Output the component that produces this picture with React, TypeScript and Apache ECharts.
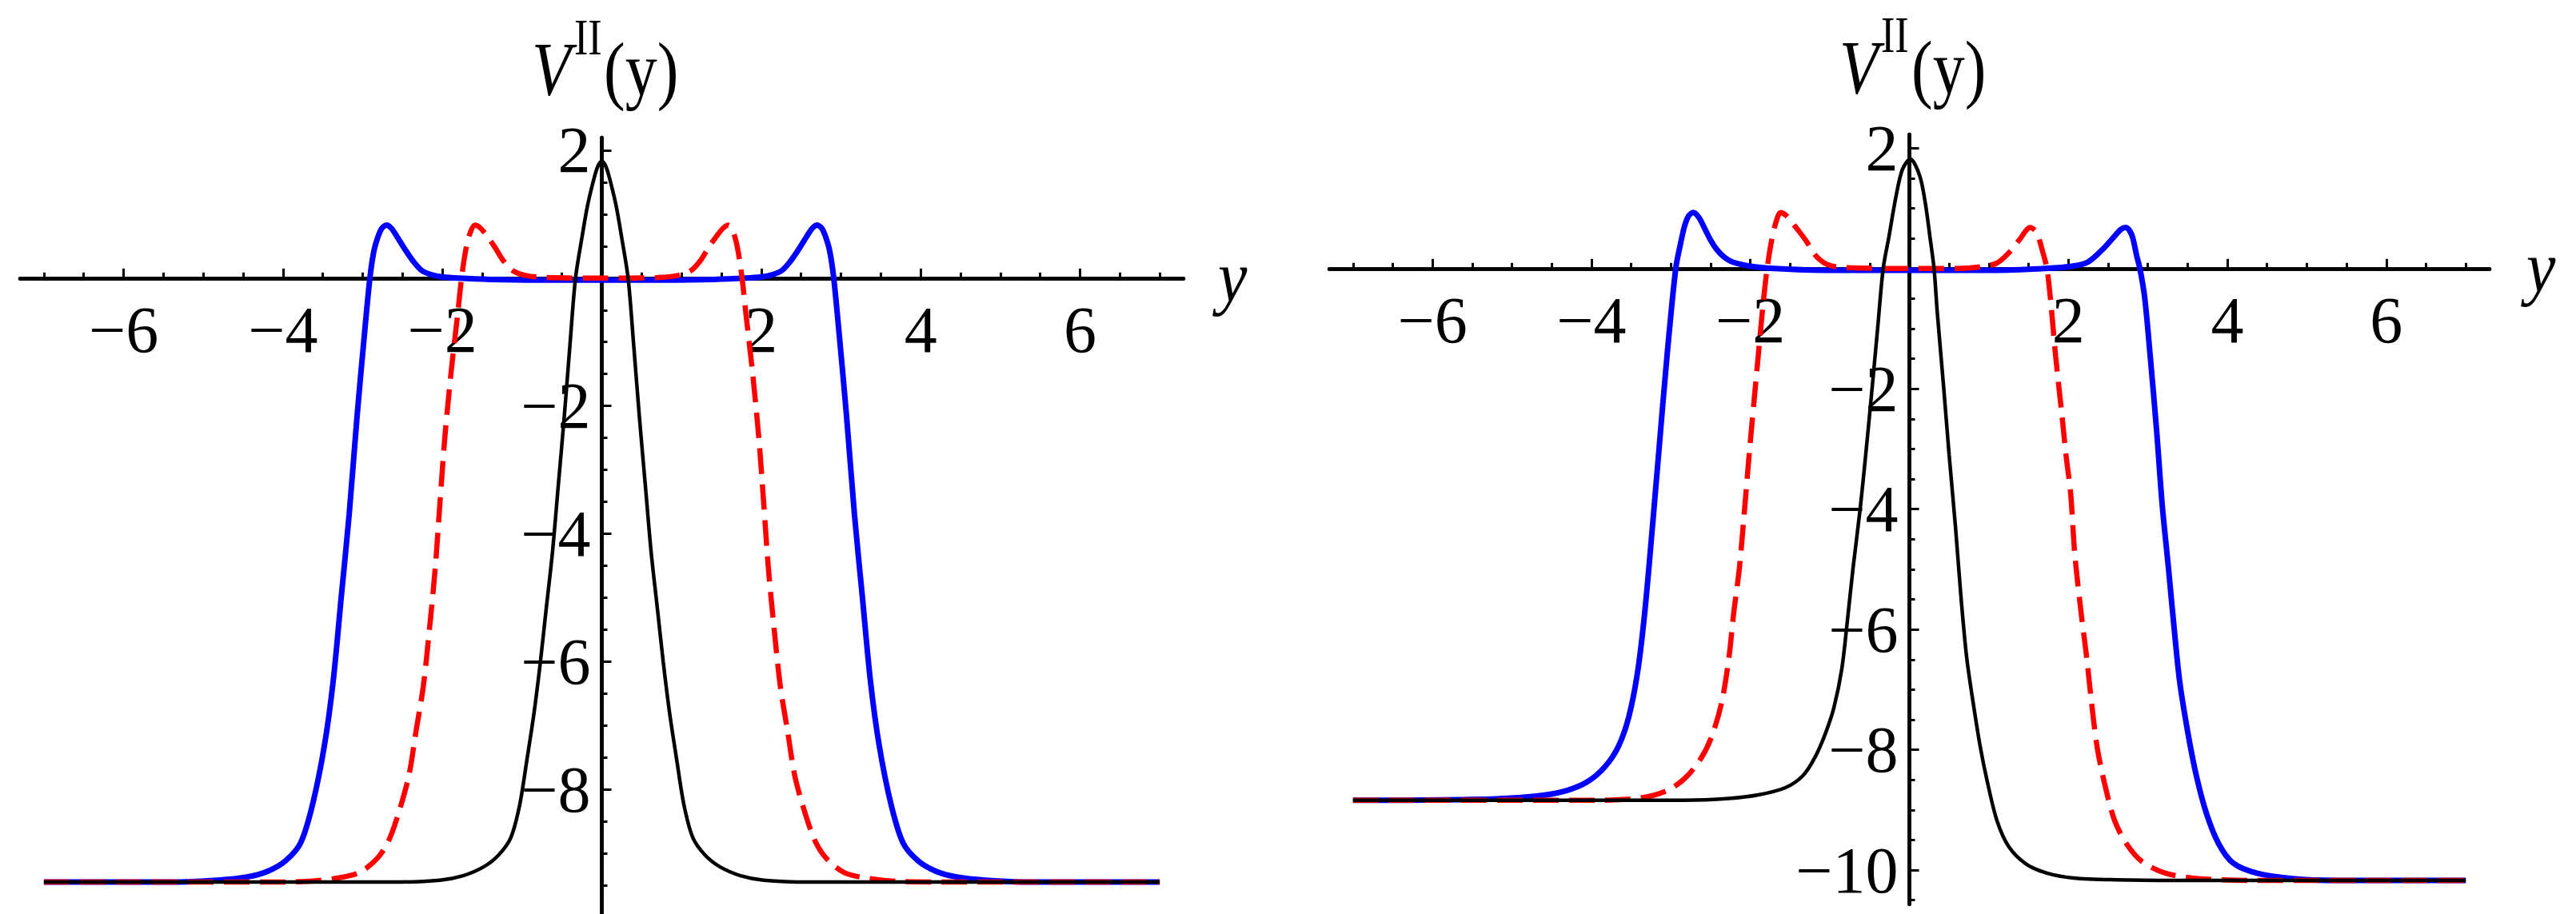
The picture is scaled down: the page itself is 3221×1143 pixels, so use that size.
import React, { useEffect, useRef } from "react";
import * as echarts from "echarts";

// ---------- data ----------
// Left panel (symmetric potentials)
const leftBlue: [number, number][] = [
  [-7.0, -9.45], [-6.0, -9.45], [-5.38, -9.45], [-4.82, -9.42], [-4.45, -9.37], [-4.19, -9.28],
  [-3.97, -9.12], [-3.78, -8.84], [-3.63, -8.24], [-3.48, -7.31], [-3.37, -6.3], [-3.27, -5.0],
  [-3.17, -3.7], [-3.07, -2.15], [-2.98, -0.9], [-2.91, 0], [-2.86, 0.42], [-2.81, 0.64],
  [-2.76, 0.78], [-2.70, 0.83], [-2.64, 0.78], [-2.57, 0.65], [-2.48, 0.47], [-2.37, 0.27],
  [-2.26, 0.12], [-2.13, 0.05], [-2.0, 0.02], [-1.8, 0.0], [-1.4, -0.02], [-0.8, -0.03], [0, -0.03],
  [0.8, -0.03], [1.4, -0.02], [1.8, 0.0], [2.0, 0.02], [2.13, 0.05], [2.26, 0.12], [2.37, 0.27],
  [2.48, 0.47], [2.57, 0.65], [2.64, 0.78], [2.70, 0.83], [2.76, 0.78], [2.81, 0.64], [2.86, 0.42],
  [2.91, 0], [2.98, -0.9], [3.07, -2.15], [3.17, -3.7], [3.27, -5.0], [3.37, -6.3], [3.48, -7.31],
  [3.63, -8.24], [3.78, -8.84], [3.97, -9.12], [4.19, -9.28], [4.45, -9.37], [4.82, -9.42],
  [5.38, -9.45], [6.0, -9.45], [7.0, -9.45],
];
const leftRed: [number, number][] = [
  [-7.0, -9.45], [-4.26, -9.45], [-3.71, -9.44], [-3.33, -9.39], [-3.04, -9.30], [-2.81, -9.07],
  [-2.67, -8.79], [-2.54, -8.33], [-2.42, -7.78], [-2.33, -7.08], [-2.24, -6.39], [-2.16, -5.46],
  [-2.09, -4.54], [-2.03, -3.5], [-1.97, -2.5], [-1.89, -1.46], [-1.81, -0.58], [-1.76, 0],
  [-1.71, 0.42], [-1.66, 0.68], [-1.59, 0.83], [-1.52, 0.78], [-1.43, 0.64], [-1.35, 0.5],
  [-1.24, 0.28], [-1.12, 0.12], [-0.95, 0.04], [-0.7, 0.01], [0, 0],
  [0.7, 0.01], [0.95, 0.04], [1.12, 0.12], [1.24, 0.28], [1.35, 0.5], [1.43, 0.64], [1.52, 0.78],
  [1.59, 0.83], [1.66, 0.68], [1.71, 0.42], [1.76, 0], [1.81, -0.58], [1.89, -1.46], [1.97, -2.5],
  [2.03, -3.5], [2.09, -4.54], [2.16, -5.46], [2.24, -6.39], [2.33, -7.08], [2.42, -7.78],
  [2.54, -8.33], [2.67, -8.79], [2.81, -9.07], [3.04, -9.30], [3.33, -9.39], [3.71, -9.44],
  [4.26, -9.45], [7.0, -9.45],
];
const leftBlack: [number, number][] = [
  [-7.0, -9.45], [-2.6, -9.45], [-2.03, -9.42], [-1.74, -9.35], [-1.48, -9.21], [-1.29, -9.02],
  [-1.14, -8.75], [-1.03, -8.24], [-0.94, -7.54], [-0.85, -6.8], [-0.77, -6.0], [-0.70, -5.2],
  [-0.62, -4.3], [-0.55, -3.3], [-0.47, -2.15], [-0.40, -1.05], [-0.33, 0], [-0.25, 0.63],
  [-0.18, 1.13], [-0.10, 1.55], [-0.05, 1.75], [0, 1.83], [0.05, 1.75], [0.10, 1.55], [0.18, 1.13],
  [0.25, 0.63], [0.33, 0], [0.40, -1.05], [0.47, -2.15], [0.55, -3.3], [0.62, -4.3], [0.70, -5.2],
  [0.77, -6.0], [0.85, -6.8], [0.94, -7.54], [1.03, -8.24], [1.14, -8.75], [1.29, -9.02],
  [1.48, -9.21], [1.74, -9.35], [2.03, -9.42], [2.6, -9.45], [7.0, -9.45],
];

// Right panel (asymmetric potentials)
const rightBlue: [number, number][] = [
  [-7.0, -8.84], [-5.25, -8.82], [-4.69, -8.77], [-4.32, -8.68], [-4.05, -8.53], [-3.83, -8.28],
  [-3.66, -7.94], [-3.53, -7.45], [-3.42, -6.71], [-3.33, -5.72], [-3.24, -4.4], [-3.15, -3.0],
  [-3.05, -1.46], [-2.94, 0], [-2.88, 0.41], [-2.83, 0.70], [-2.78, 0.87], [-2.72, 0.93],
  [-2.65, 0.85], [-2.57, 0.65], [-2.50, 0.47], [-2.42, 0.31], [-2.33, 0.19], [-2.23, 0.11],
  [-2.01, 0.04], [-1.7, 0.0], [-1.0, -0.03], [0, -0.03], [1.0, -0.03], [1.7, 0.0], [2.06, 0.04],
  [2.25, 0.11], [2.44, 0.33], [2.59, 0.55], [2.66, 0.65], [2.72, 0.68], [2.77, 0.63], [2.81, 0.51],
  [2.86, 0.21], [2.90, 0], [2.96, -0.48], [3.03, -1.46], [3.11, -2.69], [3.18, -3.92], [3.26, -4.99],
  [3.33, -5.97], [3.40, -6.86], [3.50, -7.69], [3.61, -8.43], [3.74, -9.07], [3.89, -9.56],
  [4.07, -9.88], [4.37, -10.05], [4.82, -10.14], [5.38, -10.17], [7.0, -10.17],
];
const rightRed: [number, number][] = [
  [-7.0, -8.84], [-3.94, -8.84], [-3.38, -8.80], [-3.05, -8.68], [-2.83, -8.48], [-2.64, -8.18],
  [-2.49, -7.79], [-2.36, -7.20], [-2.27, -6.46], [-2.21, -5.72], [-2.14, -4.99], [-2.08, -4.1],
  [-2.01, -3.0], [-1.92, -1.71], [-1.84, -0.58], [-1.79, 0], [-1.74, 0.42], [-1.69, 0.72],
  [-1.62, 0.93], [-1.55, 0.88], [-1.47, 0.75], [-1.39, 0.62], [-1.30, 0.46], [-1.17, 0.2],
  [-1.0, 0.05], [-0.7, 0.01], [0, 0], [0.6, 0.0], [0.91, 0.03], [1.10, 0.09], [1.25, 0.26],
  [1.38, 0.47], [1.52, 0.68], [1.60, 0.60], [1.67, 0.31], [1.73, 0], [1.78, -0.58], [1.84, -1.46],
  [1.92, -2.45], [1.97, -3.1], [2.03, -3.76], [2.08, -4.74], [2.16, -5.72], [2.23, -6.46],
  [2.29, -7.20], [2.36, -7.94], [2.45, -8.53], [2.58, -9.17], [2.73, -9.56], [2.92, -9.85],
  [3.22, -10.05], [3.63, -10.14], [4.26, -10.17], [7.0, -10.17],
];
const rightBlack: [number, number][] = [
  [-7.0, -8.84], [-2.83, -8.84], [-2.27, -8.81], [-1.90, -8.75], [-1.56, -8.63], [-1.34, -8.43],
  [-1.19, -8.13], [-1.06, -7.74], [-0.95, -7.30], [-0.85, -6.65], [-0.78, -5.85], [-0.71, -4.99],
  [-0.62, -4.0], [-0.55, -3.1], [-0.47, -2.0], [-0.40, -1.0], [-0.33, 0], [-0.26, 0.51],
  [-0.17, 1.19], [-0.09, 1.64], [0.01, 1.82], [0.13, 1.54], [0.20, 1.09], [0.26, 0.51], [0.31, 0],
  [0.35, -0.72], [0.43, -1.96], [0.50, -3.1], [0.58, -4.3], [0.65, -5.48], [0.72, -6.46],
  [0.80, -7.20], [0.89, -7.94], [0.98, -8.53], [1.10, -9.17], [1.25, -9.61], [1.47, -9.90],
  [1.73, -10.05], [2.06, -10.13], [2.59, -10.16], [3.33, -10.17], [7.0, -10.17],
];

// ---------- axes: ranges, ticks and labels ----------
const xRange = [-7.3, 7.3];
const leftYRange = [-9.95, 2.2];
const rightYRange = [-10.57, 2.23];
const xTickLabels = [-6, -4, -2, 2, 4, 6];
const xMajorTicks = [-6, -4, -2, 0, 2, 4, 6];
const xMinorTicks = [-7, -6.5, -6, -5.5, -5, -4.5, -4, -3.5, -3, -2.5, -2, -1.5, -1, -0.5, 0,
  0.5, 1, 1.5, 2, 2.5, 3, 3.5, 4, 4.5, 5, 5.5, 6, 6.5, 7];
const leftYLabels = [2, -2, -4, -6, -8];
const leftYMajorTicks = [2, 0, -2, -4, -6, -8];
const leftYMinorTicks = [2, 1.5, 1, 0.5, 0, -0.5, -1, -1.5, -2, -2.5, -3, -3.5, -4, -4.5, -5, -5.5,
  -6, -6.5, -7, -7.5, -8, -8.5, -9, -9.5];
const rightYLabels = [2, -2, -4, -6, -8, -10];
const rightYMajorTicks = [2, 0, -2, -4, -6, -8, -10];
const rightYMinorTicks = [2, 1.5, 1, 0.5, 0, -0.5, -1, -1.5, -2, -2.5, -3, -3.5, -4, -4.5, -5, -5.5,
  -6, -6.5, -7, -7.5, -8, -8.5, -9, -9.5, -10, -10.5];

const FONT = "'Liberation Serif', 'Times New Roman', serif";
const fmt = (v: number) => (v < 0 ? "\u2212" + String(-v) : String(v));

type Box = { left: number; top: number; width: number; height: number };

function buildAxes(
  gridMajor: number,
  gridMinor: number,
  box: Box,
  yRange: number[],
  yLabels: number[],
  yMajor: number[],
  yMinor: number[]
) {
  // place the axes through the origin (Mathematica style) by offsetting them from the grid edges
  const zeroX = box.left + ((0 - xRange[0]) / (xRange[1] - xRange[0])) * box.width;
  const zeroY = box.top + ((yRange[1] - 0) / (yRange[1] - yRange[0])) * box.height;
  const xOffset = -(box.top + box.height - zeroY);
  const yOffset = -(zeroX - box.left);
  const line = { onZero: false, lineStyle: { color: "#000", width: 4.5 } };
  const label = {
    fontFamily: FONT,
    fontSize: 82,
    color: "#000",
    formatter: fmt,
    hideOverlap: false,
  };
  const tickStyle = { color: "#000", width: 3 };
  const xAxes = [
    {
      type: "value",
      gridIndex: gridMajor,
      position: "bottom",
      offset: xOffset,
      min: xRange[0],
      max: xRange[1],
      axisLine: line,
      splitLine: { show: false },
      axisTick: { show: true, inside: true, length: 12, customValues: xMajorTicks, lineStyle: tickStyle },
      axisLabel: { ...label, customValues: xTickLabels, margin: 24 },
    },
    {
      type: "value",
      gridIndex: gridMinor,
      position: "bottom",
      offset: xOffset,
      min: xRange[0],
      max: xRange[1],
      axisLine: line,
      splitLine: { show: false },
      axisTick: { show: true, inside: true, length: 7, customValues: xMinorTicks, lineStyle: tickStyle },
      axisLabel: { show: false },
    },
  ];
  const yAxes = [
    {
      type: "value",
      gridIndex: gridMajor,
      position: "left",
      offset: yOffset,
      min: yRange[0],
      max: yRange[1],
      axisLine: line,
      splitLine: { show: false },
      axisTick: { show: true, inside: true, length: 12, customValues: yMajor, lineStyle: tickStyle },
      axisLabel: { ...label, customValues: yLabels, margin: 14 },
    },
    {
      type: "value",
      gridIndex: gridMinor,
      position: "left",
      offset: yOffset,
      min: yRange[0],
      max: yRange[1],
      axisLine: line,
      splitLine: { show: false },
      axisTick: { show: true, inside: true, length: 7, customValues: yMinor, lineStyle: tickStyle },
      axisLabel: { show: false },
    },
  ];
  return { xAxes, yAxes };
}

function curve(data: [number, number][], axis: number, color: string, width: number, dashed: boolean, z: number) {
  return {
    type: "line",
    xAxisIndex: axis,
    yAxisIndex: axis,
    data,
    showSymbol: false,
    symbol: "none",
    smooth: 0.3,
    z,
    lineStyle: {
      color,
      width,
      type: dashed ? [32, 13] : "solid",
      cap: "butt",
    },
  };
}

export default function App() {
  const ref = useRef<HTMLDivElement>(null);
  useEffect(() => {
    if (!ref.current) return;
    const chart = echarts.init(ref.current, undefined, { renderer: "svg" });
    const boxL: Box = { left: 25, top: 172, width: 1455, height: 971 };
    const boxR: Box = { left: 1662, top: 168, width: 1451, height: 963 };
    const L = buildAxes(0, 1, boxL, leftYRange, leftYLabels, leftYMajorTicks, leftYMinorTicks);
    const R = buildAxes(2, 3, boxR, rightYRange, rightYLabels, rightYMajorTicks, rightYMinorTicks);
    const gridL = { ...boxL, containLabel: false, outerBoundsMode: "none" };
    const gridR = { ...boxR, containLabel: false, outerBoundsMode: "none" };
    const txt = (x: number, y: number, text: string, size: number, italic: boolean, sy: number) => ({
      type: "text",
      x,
      y,
      scaleY: sy,
      style: {
        text,
        fontFamily: FONT,
        fontSize: size,
        fontStyle: italic ? "italic" : "normal",
        fill: "#000",
        align: "left",
        verticalAlign: "top",
      },
    });
    chart.setOption({
      animation: false,
      backgroundColor: "#fff",
      grid: [gridL, gridL, gridR, gridR],
      xAxis: [...L.xAxes, ...R.xAxes],
      yAxis: [...L.yAxes, ...R.yAxes],
      series: [
        curve(leftBlue, 0, "#0000ff", 7, false, 2),
        curve(leftRed, 0, "#ff0000", 6.5, true, 3),
        curve(leftBlack, 0, "#000000", 4.5, false, 4),
        curve(rightBlue, 2, "#0000ff", 7, false, 2),
        curve(rightRed, 2, "#ff0000", 6.5, true, 3),
        curve(rightBlack, 2, "#000000", 4.5, false, 4),
      ],
      graphic: [
        txt(665, 38, "V", 80, true, 1.2),
        txt(718, 16, "II", 52, false, 1.2),
        txt(755, 38, "(y)", 80, false, 1.2),
        txt(1523, 300, "y", 82, true, 1.12),
        txt(2300, 36, "V", 80, true, 1.2),
        txt(2352, 13, "II", 52, false, 1.2),
        txt(2390, 36, "(y)", 80, false, 1.2),
        txt(3159, 288, "y", 82, true, 1.12),
      ],
    });
    return () => chart.dispose();
  }, []);
  return (
    <div
      ref={ref}
      style={{ position: "absolute", left: 0, top: 0, width: 3221, height: 1143, background: "#fff" }}
    />
  );
}
